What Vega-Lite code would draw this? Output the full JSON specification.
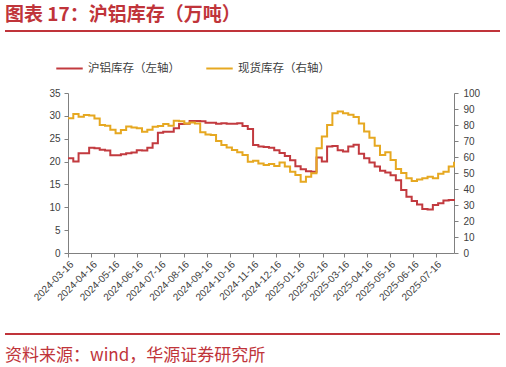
{
  "$schema": "https://vega.github.io/schema/vega-lite/v6.json",
  "background": "white",
  "padding": {"left": 5, "top": 6, "right": 5, "bottom": 0},
  "title": {"text": "图表 17：沪铝库存（万吨）", "anchor": "start", "font": "Noto Sans CJK SC", "fontSize": 19, "fontWeight": "bold", "color": "#C0343A", "offset": 0},
  "columns": 1,
  "spacing": 0,
  "align": "none",
  "bounds": "flush",
  "resolve": {"scale": {"color": "independent"}, "legend": {"color": "independent"}},
  "config": {
    "font": "Liberation Sans",
    "view": {"stroke": null},
    "axis": {"domainColor": "#808080", "tickColor": "#808080", "labelColor": "#404040", "labelFont": "Liberation Sans", "labelFontSize": 10, "tickSize": 4, "grid": false, "title": null}
  },
  "datasets": {
    "inv": [
      {"date": "2024-03-16", "shfe": 20.7, "spot": 84.2},
      {"date": "2024-03-23", "shfe": 20.0, "spot": 86.9},
      {"date": "2024-03-30", "shfe": 21.8, "spot": 85.2},
      {"date": "2024-04-06", "shfe": 21.8, "spot": 86.2},
      {"date": "2024-04-13", "shfe": 23.0, "spot": 86.0},
      {"date": "2024-04-20", "shfe": 22.9, "spot": 84.0},
      {"date": "2024-04-27", "shfe": 22.6, "spot": 80.0},
      {"date": "2024-05-04", "shfe": 22.4, "spot": 79.5},
      {"date": "2024-05-11", "shfe": 21.4, "spot": 77.0},
      {"date": "2024-05-18", "shfe": 21.4, "spot": 74.8},
      {"date": "2024-05-25", "shfe": 21.6, "spot": 76.9},
      {"date": "2024-06-01", "shfe": 21.8, "spot": 79.0},
      {"date": "2024-06-08", "shfe": 22.0, "spot": 78.5},
      {"date": "2024-06-15", "shfe": 22.5, "spot": 78.0},
      {"date": "2024-06-22", "shfe": 22.4, "spot": 75.8},
      {"date": "2024-06-29", "shfe": 23.0, "spot": 77.0},
      {"date": "2024-07-06", "shfe": 24.0, "spot": 78.9},
      {"date": "2024-07-13", "shfe": 26.3, "spot": 79.4},
      {"date": "2024-07-20", "shfe": 26.5, "spot": 80.6},
      {"date": "2024-07-27", "shfe": 26.5, "spot": 79.5},
      {"date": "2024-08-03", "shfe": 27.3, "spot": 82.7},
      {"date": "2024-08-10", "shfe": 28.2, "spot": 82.3},
      {"date": "2024-08-17", "shfe": 28.3, "spot": 81.0},
      {"date": "2024-08-24", "shfe": 28.9, "spot": 81.5},
      {"date": "2024-08-31", "shfe": 28.9, "spot": 81.0},
      {"date": "2024-09-07", "shfe": 28.8, "spot": 75.5},
      {"date": "2024-09-14", "shfe": 28.5, "spot": 74.0},
      {"date": "2024-09-21", "shfe": 28.5, "spot": 73.8},
      {"date": "2024-09-28", "shfe": 28.3, "spot": 70.0},
      {"date": "2024-10-05", "shfe": 28.4, "spot": 67.5},
      {"date": "2024-10-12", "shfe": 28.3, "spot": 66.0},
      {"date": "2024-10-19", "shfe": 28.3, "spot": 64.4},
      {"date": "2024-10-26", "shfe": 28.4, "spot": 63.0},
      {"date": "2024-11-02", "shfe": 27.8, "spot": 61.3},
      {"date": "2024-11-09", "shfe": 27.1, "spot": 57.1},
      {"date": "2024-11-16", "shfe": 23.6, "spot": 57.7},
      {"date": "2024-11-23", "shfe": 23.3, "spot": 56.0},
      {"date": "2024-11-30", "shfe": 23.2, "spot": 55.0},
      {"date": "2024-12-07", "shfe": 23.0, "spot": 55.6},
      {"date": "2024-12-14", "shfe": 22.5, "spot": 54.4},
      {"date": "2024-12-21", "shfe": 21.9, "spot": 56.5},
      {"date": "2024-12-28", "shfe": 21.2, "spot": 54.0},
      {"date": "2025-01-04", "shfe": 20.3, "spot": 50.8},
      {"date": "2025-01-11", "shfe": 19.0, "spot": 48.7},
      {"date": "2025-01-18", "shfe": 18.3, "spot": 44.5},
      {"date": "2025-01-25", "shfe": 17.9, "spot": 47.7},
      {"date": "2025-02-01", "shfe": 17.8, "spot": 49.8},
      {"date": "2025-02-08", "shfe": 20.9, "spot": 65.5},
      {"date": "2025-02-15", "shfe": 20.0, "spot": 72.8},
      {"date": "2025-02-22", "shfe": 23.3, "spot": 80.0},
      {"date": "2025-03-01", "shfe": 23.4, "spot": 87.4},
      {"date": "2025-03-08", "shfe": 22.5, "spot": 88.5},
      {"date": "2025-03-15", "shfe": 22.2, "spot": 87.4},
      {"date": "2025-03-22", "shfe": 23.3, "spot": 86.4},
      {"date": "2025-03-29", "shfe": 23.7, "spot": 85.0},
      {"date": "2025-04-05", "shfe": 21.7, "spot": 81.0},
      {"date": "2025-04-12", "shfe": 20.7, "spot": 76.0},
      {"date": "2025-04-19", "shfe": 19.8, "spot": 72.0},
      {"date": "2025-04-26", "shfe": 18.9, "spot": 67.0},
      {"date": "2025-05-03", "shfe": 18.0, "spot": 61.3},
      {"date": "2025-05-10", "shfe": 17.6, "spot": 63.0},
      {"date": "2025-05-17", "shfe": 17.0, "spot": 58.2},
      {"date": "2025-05-24", "shfe": 15.9, "spot": 52.5},
      {"date": "2025-05-31", "shfe": 13.8, "spot": 50.0},
      {"date": "2025-06-07", "shfe": 12.3, "spot": 46.7},
      {"date": "2025-06-14", "shfe": 11.4, "spot": 45.0},
      {"date": "2025-06-21", "shfe": 10.6, "spot": 46.0},
      {"date": "2025-06-28", "shfe": 9.6, "spot": 46.7},
      {"date": "2025-07-05", "shfe": 9.5, "spot": 47.7},
      {"date": "2025-07-12", "shfe": 10.5, "spot": 46.7},
      {"date": "2025-07-19", "shfe": 10.9, "spot": 49.5},
      {"date": "2025-07-26", "shfe": 11.5, "spot": 50.8},
      {"date": "2025-08-02", "shfe": 11.6, "spot": 54.0},
      {"date": "2025-08-09", "shfe": 11.4, "spot": 57.1}
    ]
  },
  "concat": [
    {
      "width": 495, "height": 2,
      "view": {"fill": "#C0343A", "stroke": null},
      "data": {"values": [{}]},
      "mark": {"type": "text", "text": "", "opacity": 0},
      "encoding": {}
    },
    {
      "width": 495, "height": 61,
      "data": {"values": [{}]},
      "mark": {"type": "text", "text": "", "opacity": 0},
      "encoding": {}
    },
    {
      "hconcat": [
        {
          "width": 63, "height": 160,
          "data": {"values": [{}]},
          "mark": {"type": "text", "text": "", "opacity": 0},
          "encoding": {}
        },
        {
          "width": 386, "height": 160,
          "data": {"name": "inv"},
          "encoding": {
            "x": {"field": "date", "type": "temporal",
              "scale": {"type": "utc", "domain": [{"year": 2024, "month": 3, "date": 16, "utc": true}, {"year": 2025, "month": 8, "date": 9, "utc": true}]},
              "axis": {"format": "%Y-%m-%d", "labelAngle": -45, "labelPadding": 2, "labelOverlap": false, "labelFlush": false, "labelBound": false,
                "values": [
                  {"year": 2024, "month": 3, "date": 16, "utc": true},
                  {"year": 2024, "month": 4, "date": 16, "utc": true},
                  {"year": 2024, "month": 5, "date": 16, "utc": true},
                  {"year": 2024, "month": 6, "date": 16, "utc": true},
                  {"year": 2024, "month": 7, "date": 16, "utc": true},
                  {"year": 2024, "month": 8, "date": 16, "utc": true},
                  {"year": 2024, "month": 9, "date": 16, "utc": true},
                  {"year": 2024, "month": 10, "date": 16, "utc": true},
                  {"year": 2024, "month": 11, "date": 16, "utc": true},
                  {"year": 2024, "month": 12, "date": 16, "utc": true},
                  {"year": 2025, "month": 1, "date": 16, "utc": true},
                  {"year": 2025, "month": 2, "date": 16, "utc": true},
                  {"year": 2025, "month": 3, "date": 16, "utc": true},
                  {"year": 2025, "month": 4, "date": 16, "utc": true},
                  {"year": 2025, "month": 5, "date": 16, "utc": true},
                  {"year": 2025, "month": 6, "date": 16, "utc": true},
                  {"year": 2025, "month": 7, "date": 16, "utc": true}
                ]}}
          },
          "layer": [
            {
              "mark": {"type": "line", "interpolate": "step-after", "strokeWidth": 2},
              "encoding": {
                "y": {"field": "shfe", "type": "quantitative", "scale": {"domain": [0, 35], "nice": false},
                  "axis": {"orient": "left", "values": [0, 5, 10, 15, 20, 25, 30, 35], "labelPadding": 4}},
                "color": {"datum": "沪铝库存（左轴）", "type": "nominal",
                  "scale": {"domain": ["沪铝库存（左轴）", "现货库存（右轴）"], "range": ["#C23A3F", "#E6A821"]},
                  "legend": {"orient": "none", "legendX": 50, "legendY": -39, "direction": "horizontal", "title": null, "symbolType": "stroke", "symbolStrokeWidth": 2, "symbolSize": 700, "labelFont": "Noto Sans CJK SC", "labelFontSize": 11.5, "labelColor": "#404040", "columnPadding": 22, "labelOffset": 4}}
              }
            },
            {
              "mark": {"type": "line", "interpolate": "step-after", "strokeWidth": 2},
              "encoding": {
                "y": {"field": "spot", "type": "quantitative", "scale": {"domain": [0, 100], "nice": false},
                  "axis": {"orient": "right", "values": [0, 10, 20, 30, 40, 50, 60, 70, 80, 90, 100], "labelPadding": 5}},
                "color": {"datum": "现货库存（右轴）", "type": "nominal"}
              }
            }
          ],
          "resolve": {"scale": {"y": "independent"}}
        }
      ],
      "spacing": 0,
      "bounds": "flush"
    },
    {
      "width": 495, "height": 240,
      "data": {"values": [{}]},
      "mark": {"type": "text", "text": "", "opacity": 0},
      "encoding": {}
    },
    {
      "width": 495, "height": 2,
      "view": {"fill": "#C0343A", "stroke": null},
      "title": {"text": "资料来源：wind，华源证券研究所", "orient": "bottom", "anchor": "start", "font": "Noto Sans CJK SC", "fontSize": 17, "fontWeight": "normal", "color": "#C0343A", "offset": 9},
      "data": {"values": [{}]},
      "mark": {"type": "text", "text": "", "opacity": 0},
      "encoding": {}
    }
  ]
}
